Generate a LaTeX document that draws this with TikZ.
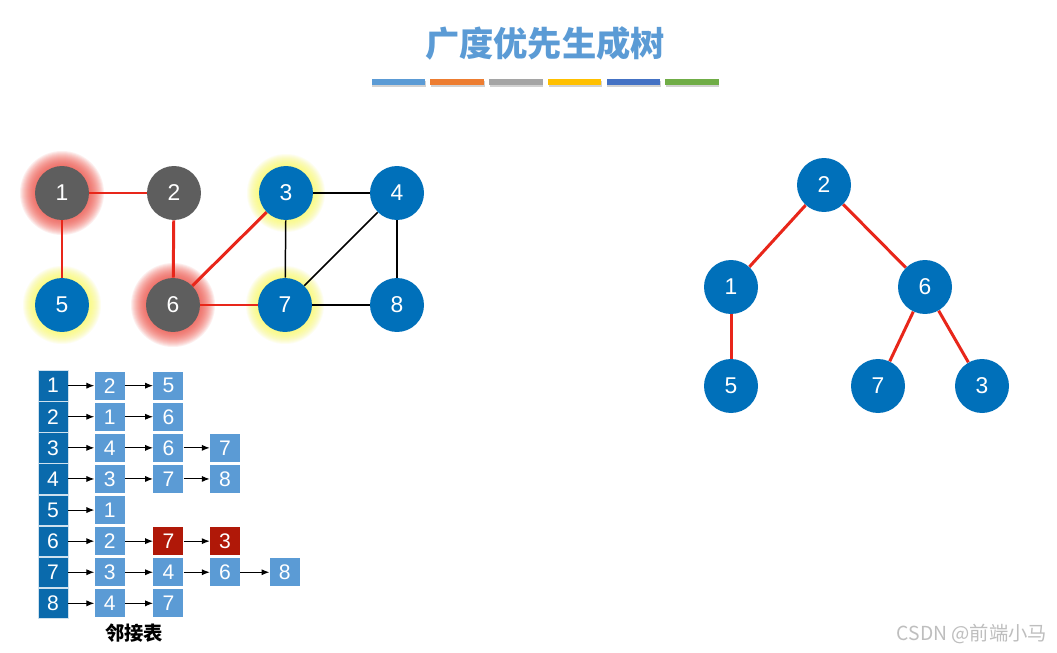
\documentclass[tikz,border=0pt]{standalone}
\usepackage{fontspec}
\setmainfont{Liberation Sans}
\newfontfamily\cjk{Noto Sans CJK SC}
\usetikzlibrary{matrix,positioning,arrows.meta,shadows,backgrounds}

\definecolor{titleblue}{RGB}{91,155,213}
\definecolor{barorange}{RGB}{237,125,49}
\definecolor{bargrey}{RGB}{165,165,165}
\definecolor{baryellow}{RGB}{255,192,0}
\definecolor{bardblue}{RGB}{68,114,196}
\definecolor{bargreen}{RGB}{112,173,71}
\definecolor{nodeblue}{RGB}{0,112,186}
\definecolor{nodegrey}{RGB}{94,94,94}
\definecolor{edgered}{RGB}{232,38,26}
\definecolor{headblue}{RGB}{10,106,172}
\definecolor{listblue}{RGB}{91,155,213}
\definecolor{hitred}{RGB}{176,24,8}
\definecolor{glowred}{RGB}{240,80,70}
\definecolor{glowyellow}{RGB}{250,250,90}
\definecolor{markgrey}{RGB}{190,190,190}

\begin{document}
\begin{tikzpicture}[x=0.02cm, y=-0.02cm,
  >={Latex[length=4.5pt,width=3.5pt]},
  vertex/.style={circle, minimum size=1.08cm, inner sep=0pt, text=white, font=\fontsize{13}{15}\selectfont},
  bluev/.style={vertex, fill=nodeblue},
  greyv/.style={vertex, fill=nodegrey},
  redge/.style={draw=edgered, line width=1.7pt},
  bedge/.style={draw=black, line width=0.85pt},
  glowring/.style={fill=#1, opacity=0.09},
  headbox/.style={rectangle, fill=headblue, draw=white!80!headblue, line width=0.4pt,
                  minimum width=0.6cm, minimum height=0.608cm, inner sep=0pt,
                  text=white, font=\fontsize{12}{14}\selectfont},
  listbox/.style={rectangle, fill=listblue, minimum width=0.6cm, minimum height=0.56cm,
                  inner sep=0pt, text=white, font=\fontsize{12}{14}\selectfont},
  hitbox/.style={listbox, fill=hitred},
  link/.style={->, line width=0.6pt},
  bar/.style={rectangle, minimum width=1.07cm, minimum height=0.11cm, inner sep=0pt,
              drop shadow={shadow xshift=0.4pt, shadow yshift=-1pt, opacity=0.35}},
]
\useasboundingbox (0,0) rectangle (1057,652);

% title
\node[font=\cjk\bfseries\fontsize{19.5}{22}\selectfont, text=titleblue] (title) at (545,43) {广度优先生成树};
\node[bar, fill=titleblue] (bar1) at (398.5,82) {};
\node[bar, fill=barorange, right=0.09cm of bar1] (bar2) {};
\node[bar, fill=bargrey, right=0.09cm of bar2] (bar3) {};
\node[bar, fill=baryellow, right=0.09cm of bar3] (bar4) {};
\node[bar, fill=bardblue, right=0.09cm of bar4] (bar5) {};
\node[bar, fill=bargreen, right=0.09cm of bar5] (bar6) {};

% graph
\node[greyv] (g1) at (62,193) {1};
\node[greyv] (g2) at (174,193) {2};
\node[bluev] (g3) at (286,193) {3};
\node[bluev] (g4) at (397,193) {4};
\node[bluev] (g5) at (62,305) {5};
\node[greyv] (g6) at (173,305) {6};
\node[bluev] (g7) at (285,305) {7};
\node[bluev] (g8) at (397,305) {8};

\begin{scope}[on background layer]
\fill[white] (0,0) rectangle (1057,652);
\foreach \r in {28,...,42} {
  \fill[glowring=glowred] (g1.center) circle (\r);
  \fill[glowring=glowred] (g6.center) circle (\r);
}
\foreach \r in {28,...,39} {
  \fill[glowring=glowyellow] (g3.center) circle (\r);
  \fill[glowring=glowyellow] (g5.center) circle (\r);
  \fill[glowring=glowyellow] (g7.center) circle (\r);
}

\draw[redge] (g1) -- (g2);
\draw[redge] (g1) -- (g5);
\draw[redge] (g2) -- (g6);
\draw[redge] (g6) -- (g3);
\draw[redge] (g6) -- (g7);
\draw[bedge] (g3) -- (g4);
\draw[bedge] (g3) -- (g7);
\draw[bedge] (g7) -- (g4);
\draw[bedge] (g4) -- (g8);
\draw[bedge] (g7) -- (g8);
\end{scope}

% spanning tree
\node[bluev] (t2) at (824,185) {2};
\node[bluev] (t1) at (731,287) {1};
\node[bluev] (t6) at (925,287) {6};
\node[bluev] (t5) at (731,386) {5};
\node[bluev] (t7) at (878,386) {7};
\node[bluev] (t3) at (982,386) {3};

\draw[redge] (t2) -- (t1);
\draw[redge] (t2) -- (t6);
\draw[redge] (t1) -- (t5);
\draw[redge] (t6) -- (t7);
\draw[redge] (t6) -- (t3);

% adjacency list
\matrix (adj) [matrix of nodes, nodes={headbox}, row sep=0pt] at (53,494.5) {
1 \\ 2 \\ 3 \\ 4 \\ 5 \\ 6 \\ 7 \\ 8 \\
};

\node[listbox, right=0.52cm of adj-1-1] (l11) {2};
\node[listbox, right=0.56cm of l11] (l12) {5};

\node[listbox, right=0.52cm of adj-2-1] (l21) {1};
\node[listbox, right=0.56cm of l21] (l22) {6};

\node[listbox, right=0.52cm of adj-3-1] (l31) {4};
\node[listbox, right=0.56cm of l31] (l32) {6};
\node[listbox, right=0.52cm of l32] (l33) {7};

\node[listbox, right=0.52cm of adj-4-1] (l41) {3};
\node[listbox, right=0.56cm of l41] (l42) {7};
\node[listbox, right=0.52cm of l42] (l43) {8};

\node[listbox, right=0.52cm of adj-5-1] (l51) {1};

\node[listbox, right=0.52cm of adj-6-1] (l61) {2};
\node[hitbox, right=0.56cm of l61] (l62) {7};
\node[hitbox, right=0.52cm of l62] (l63) {3};

\node[listbox, right=0.52cm of adj-7-1] (l71) {3};
\node[listbox, right=0.56cm of l71] (l72) {4};
\node[listbox, right=0.52cm of l72] (l73) {6};
\node[listbox, right=0.58cm of l73] (l74) {8};

\node[listbox, right=0.52cm of adj-8-1] (l81) {4};
\node[listbox, right=0.56cm of l81] (l82) {7};

\draw[link] (adj-1-1) -- (l11);
\draw[link] (l11) -- (l12);
\draw[link] (adj-2-1) -- (l21);
\draw[link] (l21) -- (l22);
\draw[link] (adj-3-1) -- (l31);
\draw[link] (l31) -- (l32);
\draw[link] (l32) -- (l33);
\draw[link] (adj-4-1) -- (l41);
\draw[link] (l41) -- (l42);
\draw[link] (l42) -- (l43);
\draw[link] (adj-5-1) -- (l51);
\draw[link] (adj-6-1) -- (l61);
\draw[link] (l61) -- (l62);
\draw[link] (l62) -- (l63);
\draw[link] (adj-7-1) -- (l71);
\draw[link] (l71) -- (l72);
\draw[link] (l72) -- (l73);
\draw[link] (l73) -- (l74);
\draw[link] (adj-8-1) -- (l81);
\draw[link] (l81) -- (l82);

\node[font=\cjk\bfseries\fontsize{11}{13}\selectfont] (caption) at (134,633) {邻接表};

\node[font=\cjk\fontsize{11}{13}\selectfont, text=markgrey] (mark) at (972,634) {CSDN @前端小马};
\end{tikzpicture}
\end{document}
